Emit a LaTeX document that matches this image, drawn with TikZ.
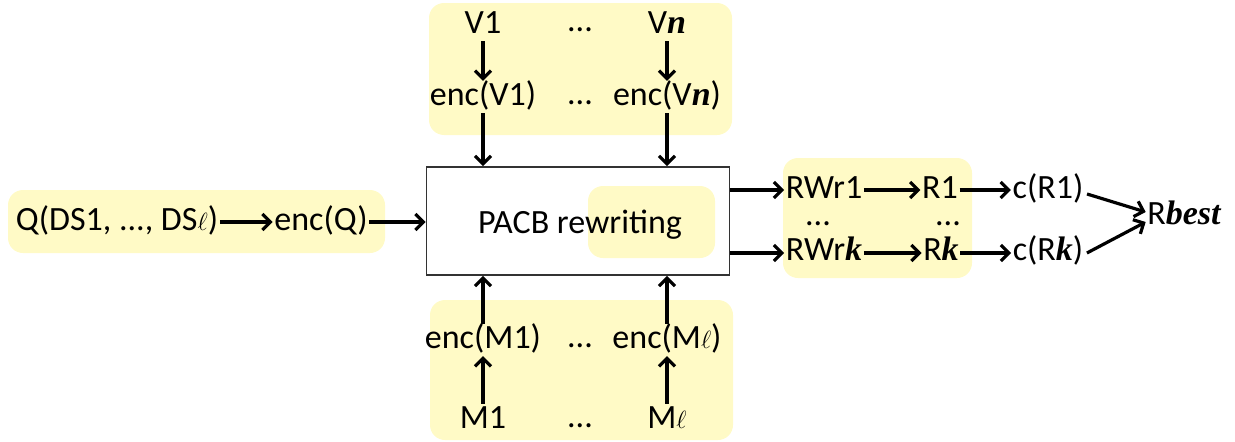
\documentclass[tikz,border=0pt]{standalone}
\usepackage{fontspec}
\setmainfont{Carlito}
\newfontfamily\scrfont{Liberation Serif}
\usetikzlibrary{arrows.meta,calc}
\definecolor{hl}{HTML}{FFFAC6}
\newcommand{\scr}[1]{{\scrfont\bfseries\itshape #1}}
\tikzset{
  lbl/.style={inner sep=1.5pt, font=\fontsize{34}{38}\selectfont, text height=23pt, text depth=6pt},
  lblk/.style={lbl, text height=21pt},
  dots/.style={inner sep=0pt, font=\fontsize{34}{38}\selectfont},
  hlbox/.style={fill=hl, draw=none, rounded corners=15pt},
  arr/.style={line width=3.2pt, -{Straight Barb[length=8pt,width=16pt]}},
  mainbox/.style={draw=black!80, line width=1.6pt, minimum width=303pt, minimum height=108pt, inner sep=0pt, font=\fontsize{34}{38}\selectfont}
}
\begin{document}
\begin{tikzpicture}[x=1pt,y=-1pt]
\useasboundingbox (0,0) rectangle (1235,442);
% highlight backgrounds
\fill[hlbox] (8,190) rectangle (385,253);
\fill[hlbox] (429,3) rectangle (732,135);
\fill[hlbox] (430,300) rectangle (733,440);
\fill[hlbox] (783,158) rectangle (972,278);
\fill[hlbox] (588,186) rectangle (715,258);
% main box
\node[mainbox] (box) at (578,221) {};
\node[lbl] (pacb) at (580,225) {PACB rewriting};
% left
\node[lbl] (q) at (117,222) {Q(DS1, ..., DS$\ell$)};
\node[lbl] (encq) at (321,222) {enc(Q)};
% top
\node[lbl] (v1) at (483,25) {V1};
\node[dots] (vd) at (580,30) {...};
\node[lbl] (vn) at (667,25) {V\scr{n}};
\node[lbl] (encv1) at (483,97) {enc(V1)};
\node[dots] (evd) at (580,103) {...};
\node[lbl] (encvn) at (667,97) {enc(V\scr{n})};
% bottom
\node[lbl] (encm1) at (483,340) {enc(M1)};
\node[dots] (emd) at (580,346) {...};
\node[lbl] (encml) at (667,340) {enc(M$\ell$)};
\node[lbl] (m1) at (483,420) {M1};
\node[dots] (md) at (580,426) {...};
\node[lbl] (ml) at (667,420) {M$\ell$};
% right
\node[lbl] (rw1) at (824,190) {RWr1};
\node[lbl] (r1) at (940,190) {R1};
\node[lbl] (c1) at (1048,190) {c(R1)};
\node[dots] (rwd) at (818,224) {...};
\node[dots] (rd) at (948,224) {...};
\node[lblk] (rwk) at (824,253) {RWr\scr{k}};
\node[lblk] (rk) at (941,253) {R\scr{k}};
\node[lblk] (ck) at (1048,253) {c(R\scr{k})};
\node[lbl] (rbest) at (1184,216) {R\scr{best}};
% arrows
\draw[arr] (q) -- (encq);
\draw[arr] (encq) -- (box.west |- encq);
\draw[arr] (v1) -- (encv1);
\draw[arr] (vn) -- (encvn);
\draw[arr] (encv1) -- (encv1 |- box.north);
\draw[arr] (encvn) -- (encvn |- box.north);
\draw[arr] (m1) -- (encm1);
\draw[arr] (ml) -- (encml);
\draw[arr] (encm1) -- (encm1 |- box.south);
\draw[arr] (encml) -- (encml |- box.south);
\draw[arr] (box.east |- rw1) -- (rw1);
\draw[arr] (box.east |- rwk) -- (rwk);
\draw[arr] (rw1) -- (r1);
\draw[arr] (rwk) -- (rk);
\draw[arr] (r1) -- (c1);
\draw[arr] (rk) -- (ck);
\draw[arr] ($(c1.east)+(2,4)$) -- ($(rbest.west)+(0,-4)$);
\draw[arr] ($(ck.east)+(2,0)$) -- ($(rbest.west)+(0,6)$);
\end{tikzpicture}
\end{document}
